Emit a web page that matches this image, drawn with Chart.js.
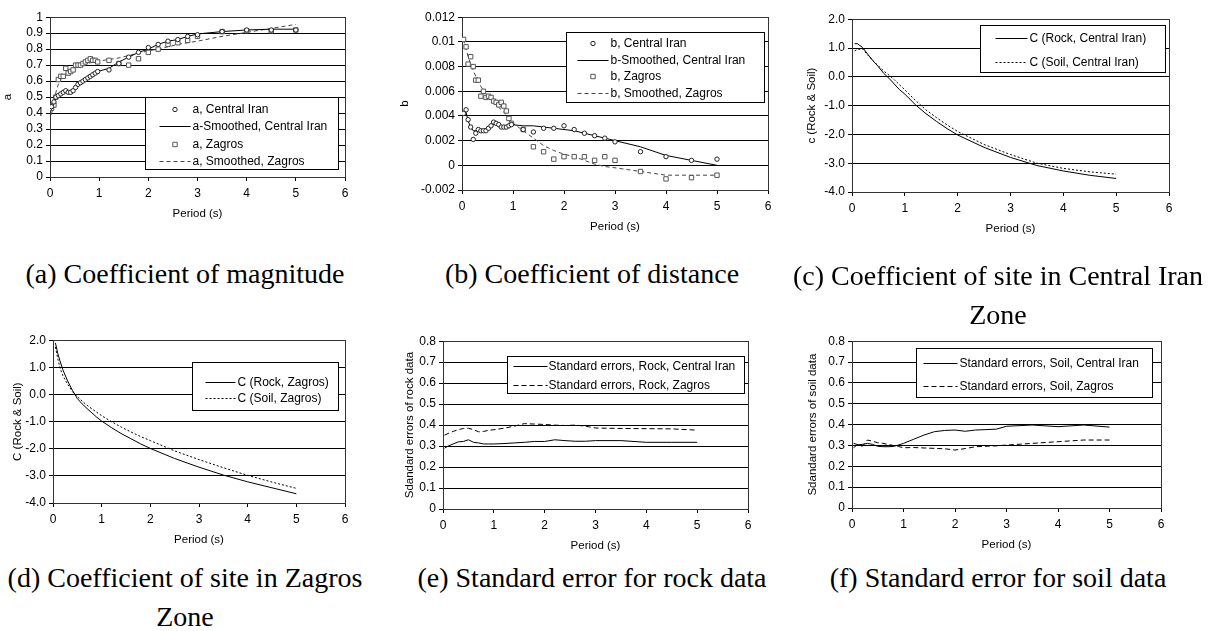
<!DOCTYPE html>
<html>
<head>
<meta charset="utf-8">
<script src="https://cdn.jsdelivr.net/npm/chart.js@4/dist/chart.umd.min.js"></script>
<style>
  html, body { margin: 0; padding: 0; background: #fff; }
  body { width: 1210px; height: 631px; position: relative; overflow: hidden; }
  canvas { position: absolute; }
  .cap {
    position: absolute; width: 460px; margin-left: -230px; text-align: center;
    font-family: "Liberation Serif", "Times New Roman", serif; font-size: 28px;
    line-height: 39px; white-space: nowrap; color: #000;
  }
</style>
</head>
<body>
<canvas id="panelA"></canvas>
<canvas id="panelB"></canvas>
<canvas id="panelC"></canvas>
<canvas id="panelD"></canvas>
<canvas id="panelE"></canvas>
<canvas id="panelF"></canvas>

<div class="cap" style="left:185px; top:254px">(a) Coefficient of magnitude</div>
<div class="cap" style="left:592px; top:254px">(b) Coefficient of distance</div>
<div class="cap" style="left:998px; top:256px">(c) Coefficient of site in Central Iran<br>Zone</div>
<div class="cap" style="left:185px; top:558px">(d) Coefficient of site in Zagros<br>Zone</div>
<div class="cap" style="left:592px; top:558px">(e) Standard error for rock data</div>
<div class="cap" style="left:998px; top:558px">(f) Standard error for soil data</div>

<script>
// ── Data ──────────────────────────────────────────────────────────────

// periods used for the a / b regression coefficients
const abPeriods = [0.03, 0.08, 0.12, 0.17, 0.22, 0.27, 0.32, 0.37, 0.42, 0.47,
                   0.52, 0.57, 0.62, 0.67, 0.72, 0.77, 0.82, 0.87, 0.92, 0.97,
                   1.2, 1.4, 1.6, 1.8, 2.0, 2.2, 2.4, 2.6, 2.8, 3.0, 3.5, 4.0, 4.5, 5.0];

const aCentral       = [0.44, 0.47, 0.50, 0.51, 0.52, 0.53, 0.54, 0.53, 0.53, 0.54,
                        0.56, 0.58, 0.59, 0.60, 0.61, 0.62, 0.63, 0.64, 0.65, 0.66,
                        0.67, 0.71, 0.75, 0.78, 0.81, 0.83, 0.85, 0.86, 0.88, 0.89, 0.91, 0.92, 0.92, 0.92];
const aCentralSmooth = [0.42, 0.47, 0.49, 0.51, 0.52, 0.53, 0.53, 0.53, 0.54, 0.55,
                        0.56, 0.58, 0.59, 0.60, 0.61, 0.62, 0.63, 0.64, 0.65, 0.66,
                        0.68, 0.72, 0.75, 0.78, 0.80, 0.83, 0.85, 0.86, 0.88, 0.895, 0.91, 0.92, 0.925, 0.925];
const aZagros        = [0.43, 0.45, 0.50, 0.61, 0.63, 0.63, 0.68, 0.65, 0.66, 0.67,
                        0.70, 0.70, 0.70, 0.71, 0.72, 0.73, 0.74, 0.73, 0.73, 0.72,
                        0.73, 0.71, 0.70, 0.74, 0.78, 0.80, 0.83, 0.84, 0.855, 0.88, 0.91, 0.915, 0.915, 0.92];
const aZagrosSmooth  = [0.39, 0.47, 0.53, 0.58, 0.61, 0.63, 0.645, 0.655, 0.665, 0.675,
                        0.685, 0.69, 0.695, 0.70, 0.705, 0.71, 0.715, 0.72, 0.72, 0.725,
                        0.735, 0.745, 0.76, 0.775, 0.79, 0.80, 0.815, 0.83, 0.84, 0.85, 0.88, 0.905, 0.93, 0.955];

const bCentral       = [0.0042, 0.0045, 0.0037, 0.0031, 0.0021, 0.0026, 0.0029, 0.0028, 0.0028, 0.0028,
                        0.0030, 0.0032, 0.0035, 0.0034, 0.0033, 0.0031, 0.0031, 0.0031, 0.0032, 0.0033,
                        0.0029, 0.0027, 0.0030, 0.0030, 0.0032, 0.0029, 0.0026, 0.0024, 0.0022, 0.0019,
                        0.0011, 0.0007, 0.0004, 0.0005];
const bCentralSmooth = [0.0042, 0.0043, 0.0036, 0.0031, 0.0028, 0.0028, 0.0028, 0.0028, 0.0029, 0.0030,
                        0.0031, 0.0032, 0.0033, 0.0033, 0.0033, 0.0032, 0.0032, 0.0032, 0.0032, 0.0033,
                        0.0032, 0.0032, 0.0031, 0.0030, 0.0029, 0.0028, 0.0026, 0.0024, 0.0022, 0.0020,
                        0.0015, 0.0008, 0.0004, 0.0000];
const bZagros        = [0.0102, 0.0096, 0.0082, 0.0088, 0.0080, 0.0069, 0.0069, 0.0056, 0.0060, 0.0055,
                        0.0056, 0.0055, 0.0052, 0.0051, 0.0049, 0.0051, 0.0048, 0.0044, 0.0038, 0.0034,
                        0.0029, 0.0015, 0.0011, 0.0005, 0.0007, 0.0007, 0.0007, 0.0004, 0.0007, 0.0004,
                        -0.0005, -0.0011, -0.0010, -0.0008];
const bZagrosSmooth  = [0.0102, 0.0094, 0.0088, 0.0082, 0.0077, 0.0072, 0.0068, 0.0064, 0.0061, 0.0058,
                        0.0055, 0.0053, 0.0051, 0.0049, 0.0047, 0.0045, 0.0043, 0.0041, 0.0038, 0.0035,
                        0.0028, 0.0022, 0.0016, 0.0012, 0.0009, 0.0007, 0.0004, 0.0001, -0.0001, -0.0002,
                        -0.0005, -0.0008, -0.0008, -0.0008];

// site coefficients
const cPeriods = [0.05, 0.1, 0.2, 0.3, 0.4, 0.5, 0.6, 0.7, 0.8, 0.9, 1.0,
                  1.2, 1.4, 1.6, 1.8, 2.0, 2.5, 3.0, 3.5, 4.0, 4.5, 5.0];
const cRockCentral = [1.15, 1.15, 1.02, 0.78, 0.55, 0.35, 0.12, -0.05, -0.25, -0.45, -0.60,
                      -0.97, -1.28, -1.55, -1.80, -2.02, -2.45, -2.80, -3.08, -3.27, -3.42, -3.53];
const cSoilCentral = [0.90, 0.95, 0.97, 0.75, 0.55, 0.38, 0.20, 0.06, -0.10, -0.28, -0.45,
                      -0.82, -1.15, -1.42, -1.67, -1.90, -2.35, -2.70, -3.00, -3.18, -3.30, -3.38];

const dPeriods = [0.05, 0.1, 0.15, 0.2, 0.3, 0.4, 0.5, 0.6, 0.7, 0.8, 0.9, 1.0,
                  1.2, 1.4, 1.6, 1.8, 2.0, 2.5, 3.0, 3.5, 4.0, 4.5, 5.0];
const dRockZagros = [1.90, 1.50, 1.20, 0.92, 0.50, 0.15, -0.15, -0.35, -0.52, -0.68, -0.84, -0.98,
                     -1.22, -1.44, -1.63, -1.82, -1.99, -2.36, -2.68, -2.97, -3.22, -3.44, -3.66];
const dSoilZagros = [1.75, 1.30, 0.95, 0.70, 0.38, 0.10, -0.08, -0.25, -0.40, -0.53, -0.66, -0.78,
                     -1.00, -1.20, -1.38, -1.55, -1.70, -2.08, -2.40, -2.70, -2.98, -3.23, -3.46];

// standard errors
const sePeriods = [0.03, 0.1, 0.2, 0.3, 0.4, 0.5, 0.6, 0.7, 0.8, 0.9, 1.0, 1.2, 1.4,
                   1.6, 1.8, 2.0, 2.2, 2.4, 2.6, 2.8, 3.0, 3.5, 4.0, 4.5, 5.0];
const seRockCentral = [0.290, 0.300, 0.310, 0.320, 0.322, 0.330, 0.318, 0.315, 0.310, 0.310, 0.310, 0.312, 0.315,
                       0.318, 0.322, 0.322, 0.330, 0.326, 0.323, 0.323, 0.326, 0.326, 0.318, 0.318, 0.318];
const seRockZagros  = [0.352, 0.360, 0.370, 0.378, 0.384, 0.385, 0.378, 0.368, 0.370, 0.375, 0.378, 0.385, 0.395,
                       0.407, 0.405, 0.403, 0.400, 0.398, 0.400, 0.395, 0.386, 0.384, 0.383, 0.382, 0.376];
const seSoilCentral = [0.289, 0.303, 0.305, 0.310, 0.305, 0.296, 0.294, 0.294, 0.295, 0.302, 0.310, 0.330, 0.350,
                       0.366, 0.372, 0.374, 0.368, 0.374, 0.376, 0.378, 0.392, 0.398, 0.390, 0.398, 0.388];
const seSoilZagros  = [0.310, 0.305, 0.296, 0.326, 0.320, 0.313, 0.310, 0.305, 0.300, 0.295, 0.289, 0.290, 0.288,
                       0.286, 0.284, 0.278, 0.285, 0.294, 0.296, 0.298, 0.302, 0.310, 0.318, 0.326, 0.326];

const periodTicks = [0, 1, 2, 3, 4, 5, 6];

// ── Styles ────────────────────────────────────────────────────────────

Chart.defaults.font.family = '"Liberation Sans", Arial, sans-serif';
Chart.defaults.font.size = 12;
Chart.defaults.color = '#000';

const pts = (xs, ys) => xs.map((x, i) => ({ x, y: ys[i] }));

const circles = (label, xs, ys) => ({
    label, data: pts(xs, ys), showLine: false,
    pointStyle: 'circle', pointRadius: 2.2, pointBorderWidth: 1,
    pointBorderColor: '#222', pointBackgroundColor: '#fff',
});
const squares = (label, xs, ys) => ({
    label, data: pts(xs, ys), showLine: false,
    pointStyle: 'rect', pointRadius: 3.1, pointBorderWidth: 1,
    pointBorderColor: '#555', pointBackgroundColor: '#fff',
});
const curve = (label, xs, ys, dash, color) => ({
    label, data: pts(xs, ys), showLine: true, pointRadius: 0,
    borderColor: color || '#000', borderWidth: 1, borderDash: dash || [], tension: 0,
});

// ── Plugins ───────────────────────────────────────────────────────────

// box round the plot area (Excel style)
const plotFrame = {
    id: 'plotFrame',
    beforeDatasetsDraw(chart) {
        const { ctx, chartArea: a } = chart;
        ctx.save();
        ctx.strokeStyle = '#333';
        ctx.lineWidth = 1;
        ctx.strokeRect(Math.round(a.left) + 0.5, Math.round(a.top) + 0.5,
                       Math.round(a.right - a.left), Math.round(a.bottom - a.top));
        ctx.restore();
    },
};

// legend drawn as a boxed panel inside the plot area
const boxLegend = {
    id: 'boxLegend',
    afterDatasetsDraw(chart, args, opts) {
        if (!opts.box) return;
        const { ctx, chartArea } = chart;
        const [bx, by, bw, bh] = opts.box;
        const x0 = Math.round(chartArea.left + bx) + 0.5;
        const y0 = Math.round(chartArea.top + by) + 0.5;
        ctx.save();
        ctx.fillStyle = '#fff';
        ctx.fillRect(x0, y0, bw, bh);
        ctx.strokeStyle = '#000';
        ctx.lineWidth = 1;
        ctx.strokeRect(x0, y0, bw, bh);
        ctx.font = '12px "Liberation Sans", Arial, sans-serif';
        ctx.textBaseline = 'middle';
        chart.data.datasets.forEach((ds, i) => {
            const y = Math.round(y0 + opts.rows[i]) + 0.5;
            const s0 = x0 + opts.sample[0], s1 = x0 + opts.sample[1];
            if (ds.showLine) {
                ctx.strokeStyle = ds.borderColor;
                ctx.setLineDash(ds.borderDash);
                ctx.beginPath();
                ctx.moveTo(s0, y);
                ctx.lineTo(s1, y);
                ctx.stroke();
                ctx.setLineDash([]);
            } else {
                const cx = Math.round((s0 + s1) / 2);
                ctx.strokeStyle = ds.pointBorderColor;
                ctx.fillStyle = '#fff';
                ctx.beginPath();
                if (ds.pointStyle === 'rect') {
                    const h = ds.pointRadius * Math.SQRT1_2;
                    ctx.rect(cx - h, y - h, 2 * h, 2 * h);
                } else {
                    ctx.arc(cx, y, ds.pointRadius, 0, Math.PI * 2);
                }
                ctx.fill();
                ctx.stroke();
            }
            ctx.fillStyle = '#000';
            ctx.fillText(ds.label, x0 + opts.textX, y);
        });
        ctx.restore();
    },
};

// ── Panel builder ─────────────────────────────────────────────────────

function panel(id, area, yTitleX, y, datasets, legend) {
    const [L, T, R, B] = area;
    const canvas = document.getElementById(id);
    const left = Math.max(0, Math.round(yTitleX - 7));
    const top = T - 10;
    const yw = L - left;
    canvas.width = R + 10 - left;
    canvas.height = B + 44 - top;
    canvas.style.left = left + 'px';
    canvas.style.top = top + 'px';

    return new Chart(canvas, {
        type: 'scatter',
        data: { datasets },
        options: {
            responsive: false,
            animation: false,
            events: [],
            layout: { padding: { left: 0, top: 10, right: 10, bottom: 0 } },
            plugins: { legend: { display: false }, tooltip: { enabled: false }, boxLegend: legend },
            scales: {
                x: {
                    type: 'linear', min: 0, max: 6,
                    afterBuildTicks: s => { s.ticks = periodTicks.map(v => ({ value: v })); },
                    afterFit: s => { s.height = 44; },
                    grid: { drawOnChartArea: false, drawTicks: true, tickLength: 4, color: '#000' },
                    border: { color: '#000' },
                    ticks: { padding: 5, maxRotation: 0, autoSkip: false, callback: v => String(v) },
                    title: { display: true, text: 'Period (s)', padding: 0, font: { size: 11.5 } },
                },
                y: {
                    type: 'linear', min: y.min, max: y.max,
                    ticks: { stepSize: y.step, padding: 3, autoSkip: false, callback: y.fmt },
                    afterFit: s => { s.width = yw; },
                    grid: { color: '#000', drawTicks: true, tickLength: 4 },
                    border: { color: '#000' },
                    title: { display: true, text: y.title, padding: 0, font: { size: 11.5 } },
                },
            },
        },
        plugins: [plotFrame, boxLegend],
    });
}

const fmtTenths = v => String(Math.round(v * 10) / 10);
const fmtOneDp = v => (Math.round(v * 10) / 10).toFixed(1);
const fmtThous = v => String(Math.round(v * 1000) / 1000);

// ── Build ─────────────────────────────────────────────────────────────

panel('panelA', [50, 17, 345, 177], 8,
    { min: 0, max: 1, step: 0.1, fmt: fmtTenths, title: 'a' },
    [
        circles('a, Central Iran', abPeriods, aCentral),
        curve('a-Smoothed, Central Iran', abPeriods, aCentralSmooth),
        squares('a, Zagros', abPeriods, aZagros),
        curve('a, Smoothed, Zagros', abPeriods, aZagrosSmooth, [4, 3], '#444'),
    ],
    { box: [95, 80, 193, 72], rows: [11, 28.5, 46, 63.5], sample: [14, 45], textX: 47 });

panel('panelB', [462, 17, 768, 190], 405,
    { min: -0.002, max: 0.012, step: 0.002, fmt: fmtThous, title: 'b' },
    [
        circles('b, Central Iran', abPeriods, bCentral),
        curve('b-Smoothed, Central Iran', abPeriods, bCentralSmooth),
        squares('b, Zagros', abPeriods, bZagros),
        curve('b, Smoothed, Zagros', abPeriods, bZagrosSmooth, [4, 3], '#444'),
    ],
    { box: [104, 15, 198, 70], rows: [10, 27, 43, 60], sample: [11, 42], textX: 44 });

panel('panelC', [852, 19, 1169, 192], 812,
    { min: -4, max: 2, step: 1, fmt: fmtOneDp, title: 'c (Rock & Soil)' },
    [
        curve('C (Rock, Central Iran)', cPeriods, cRockCentral),
        curve('C (Soil, Central Iran)', cPeriods, cSoilCentral, [2, 2]),
    ],
    { box: [128, 6, 185, 47], rows: [12, 36], sample: [15, 47], textX: 49 });

panel('panelD', [53, 340, 345, 503], 18,
    { min: -4, max: 2, step: 1, fmt: fmtOneDp, title: 'C (Rock & Soil)' },
    [
        curve('C (Rock, Zagros)', dPeriods, dRockZagros),
        curve('C (Soil, Zagros)', dPeriods, dSoilZagros, [2, 2]),
    ],
    { box: [139, 22, 146, 48], rows: [19, 35], sample: [13, 43], textX: 45 });

panel('panelE', [443, 341, 748, 509], 410,
    { min: 0, max: 0.8, step: 0.1, fmt: fmtTenths, title: 'Sdandard errors of rock data' },
    [
        curve('Standard errors, Rock, Central Iran', sePeriods, seRockCentral),
        curve('Standard errors, Rock, Zagros', sePeriods, seRockZagros, [5, 3]),
    ],
    { box: [64, 15, 237, 37], rows: [9, 28], sample: [6, 40], textX: 41 });

panel('panelF', [852, 341, 1161, 508], 813,
    { min: 0, max: 0.8, step: 0.1, fmt: fmtTenths, title: 'Sdandard errors of soil data' },
    [
        curve('Standard errors, Soil, Central Iran', sePeriods, seSoilCentral),
        curve('Standard errors, Soil, Zagros', sePeriods, seSoilZagros, [5, 3]),
    ],
    { box: [64, 7, 236, 49], rows: [14, 37], sample: [7, 41], textX: 43 });
</script>
</body>
</html>
